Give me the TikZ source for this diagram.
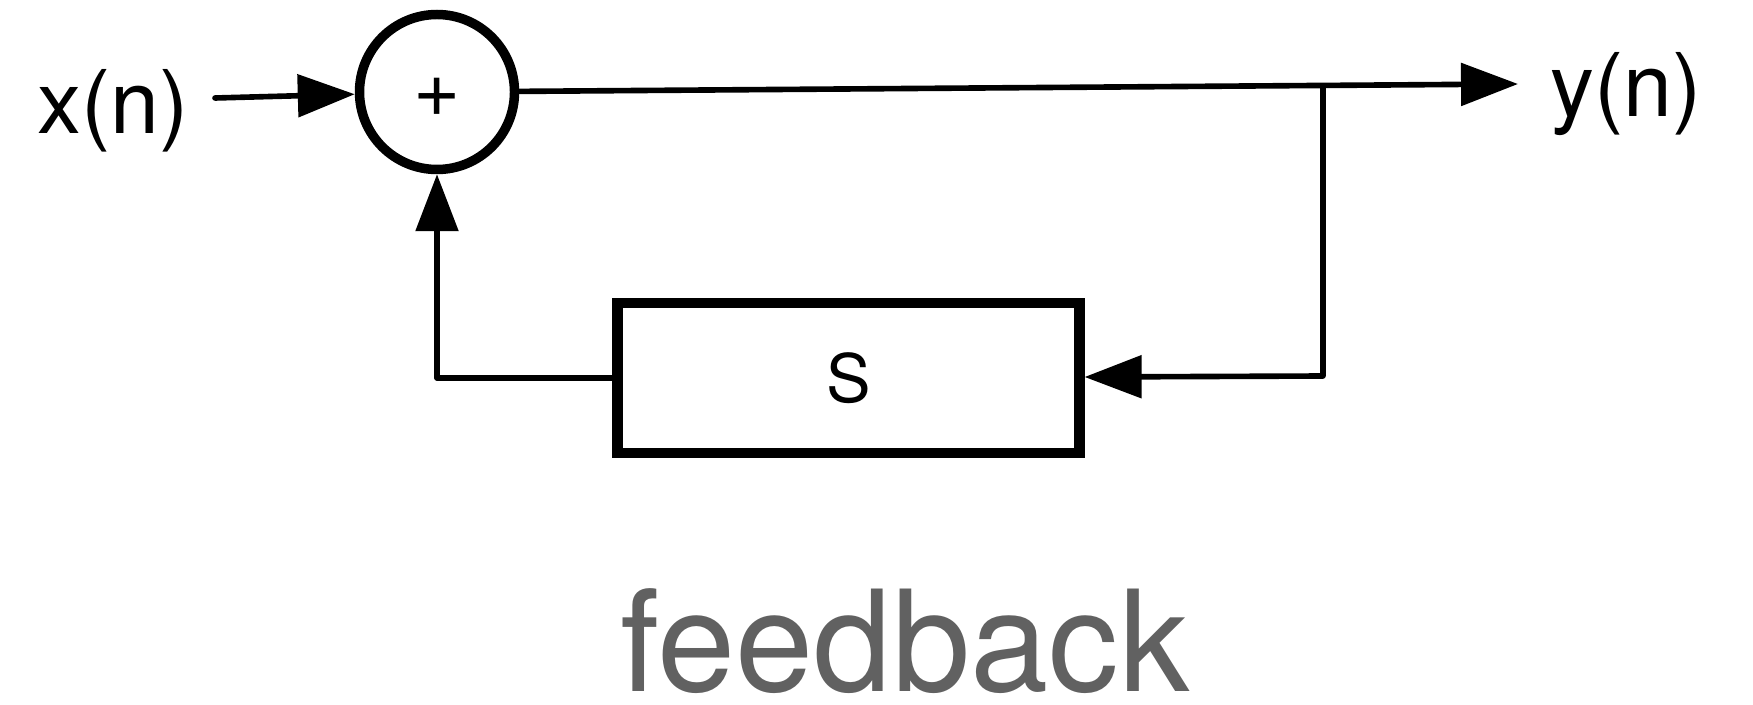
\documentclass[tikz,border=0pt]{standalone}
\usepackage{fontspec}
\setmainfont{TeX Gyre Heros}
\usetikzlibrary{arrows.meta}

\begin{document}
\begin{tikzpicture}[>={Triangle[length=5.7mm,width=4.2mm]},
    sig/.style={font=\fontsize{25}{30}\selectfont},
    wire/.style={line width=1.6pt, line join=round, line cap=round}]
  \useasboundingbox (0,0) rectangle (17.53,7.04);

  \node[circle, draw, line width=2.7pt, minimum size=1.55cm, inner sep=0pt, font=\fontsize{23}{28}\selectfont] (sum) at (4.37,6.12) {\raisebox{-0.25cm}[0pt][0pt]{+}};
  \node[draw, line width=2.9pt, minimum width=4.62cm, minimum height=1.505cm, inner sep=0pt, font=\fontsize{19}{22}\selectfont] (delay) at (8.485,3.26) {S};
  \node[sig, anchor=base] (x) at (1.13,5.70) {x(n)};
  \node[sig, anchor=base] (y) at (16.26,5.87) {y(n)};
  \node[font=\fontsize{40}{48}\selectfont, text=black!62, anchor=base, inner sep=0pt] (title) at (9.05,0.13) {feedback};

  \coordinate (in) at (2.15,6.06);
  \coordinate (out) at (15.18,6.20);
  \coordinate (tap) at (13.23,6.18);
  \coordinate (back) at (13.23,3.28);

  \draw[wire, ->] (in) -- (sum);
  \draw[wire, ->] (sum) -- (out);
  \draw[wire, ->] (tap) -- (back) -- (delay);
  \draw[wire, ->] (delay) -| (sum);
\end{tikzpicture}
\end{document}
